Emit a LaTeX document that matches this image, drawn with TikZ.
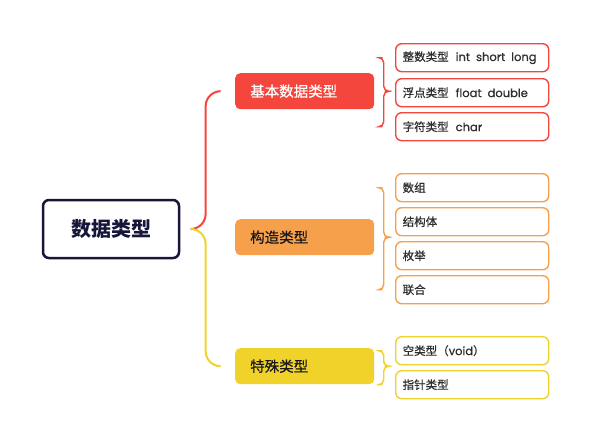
\documentclass[tikz,border=0pt]{standalone}
\usepackage{fontspec}
\setmainfont{Poppins}[FakeBold=0.6]
\newfontfamily\cjk{Noto Sans CJK SC}
\newfontfamily\cjkm{Noto Sans CJK SC}[FakeBold=0.6]
\usetikzlibrary{calc}
\definecolor{cred}{HTML}{F5463D}
\definecolor{corange}{HTML}{F7A04B}
\definecolor{cyellow}{HTML}{F1D22A}
\definecolor{cnavy}{HTML}{15163A}
\definecolor{ctext}{HTML}{2E2E2E}
\begin{document}
\begin{tikzpicture}[x=1pt,y=-1pt,
  rootbox/.style={draw=cnavy, line width=2.5pt, rounded corners=6pt,
    minimum width=136pt, minimum height=58pt, inner sep=0pt,
    text=cnavy, font=\cjk\bfseries\fontsize{20}{24}\selectfont},
  lvone/.style={rounded corners=5pt, anchor=north west, minimum height=36pt,
    text width=109pt, inner xsep=15pt, inner ysep=0pt, align=left,
    font=\cjkm\fontsize{14.5}{17}\selectfont},
  lvtwo/.style={rounded corners=6pt, anchor=north west, minimum height=28pt,
    text width=139pt, inner xsep=7pt, inner ysep=0pt, align=left, line width=1.4pt,
    fill=white, text=ctext, font=\fontsize{11.5}{14}\selectfont},
  mainbrace/.style={line width=2pt, line cap=round, rounded corners=15pt},
  subbrace/.style={line width=1.4pt, line cap=round, rounded corners=5pt}
]
\useasboundingbox (0,0) rectangle (591,440);
\fill[white] (0,0) rectangle (591,440);

\node[rootbox] (root) at (111,229) {数据类型};

\node[lvone, fill=cred, text=white] (basic) at (235,73) {基本数据类型};
\node[lvone, fill=corange, text=black!90] (struct) at (235,219) {构造类型};
\node[lvone, fill=cyellow, text=black!90] (special) at (235,348) {特殊类型};

\node[lvtwo, draw=cred] (b1) at (395,43) {\mbox{{\cjkm 整数类型}\hspace{7pt}int\hspace{6pt}short\hspace{6pt}long}};
\node[lvtwo, draw=cred] (b2) at (395,78) {\mbox{{\cjkm 浮点类型}\hspace{7pt}float\hspace{6pt}double}};
\node[lvtwo, draw=cred] (b3) at (395,112) {\mbox{{\cjkm 字符类型}\hspace{7pt}char}};

\node[lvtwo, draw=corange] (s1) at (395,173) {{\cjkm 数组}};
\node[lvtwo, draw=corange] (s2) at (395,207) {{\cjkm 结构体}};
\node[lvtwo, draw=corange] (s3) at (395,241) {{\cjkm 枚举}};
\node[lvtwo, draw=corange] (s4) at (395,275) {{\cjkm 联合}};

\node[lvtwo, draw=cyellow] (p1) at (395,336) {\mbox{{\cjkm 空类型（}void{\cjkm ）}}};
\node[lvtwo, draw=cyellow] (p2) at (395,370) {{\cjkm 指针类型}};

% main brace
\coordinate (t0) at ($(root.east)+(11,0)$);
\coordinate (e1) at ($(basic.west)+(-15,0)$);
\coordinate (e3) at ($(special.west)+(-15,0)$);
\draw[mainbrace, draw=cred] (t0) -| ($(t0)!.5!(e1)$) |- (e1);
\draw[mainbrace, draw=cyellow] (t0) -| ($(t0)!.5!(e3)$) |- (e3);

% sub braces
\coordinate (tb) at ($(basic.east)+(11,0)$);
\coordinate (eb1) at ($(b1.west)+(-13,0)$);
\coordinate (eb3) at ($(b3.west)+(-13,0)$);
\draw[subbrace, draw=cred] (tb) -| ($(tb)!.5!(eb1)$) |- (eb1);
\draw[subbrace, draw=cred] (tb) -| ($(tb)!.5!(eb3)$) |- (eb3);

\coordinate (ts) at ($(struct.east)+(11,0)$);
\coordinate (es1) at ($(s1.west)+(-13,0)$);
\coordinate (es4) at ($(s4.west)+(-13,0)$);
\draw[subbrace, draw=corange] (ts) -| ($(ts)!.5!(es1)$) |- (es1);
\draw[subbrace, draw=corange] (ts) -| ($(ts)!.5!(es4)$) |- (es4);

\coordinate (tp) at ($(special.east)+(11,0)$);
\coordinate (ep1) at ($(p1.west)+(-13,0)$);
\coordinate (ep2) at ($(p2.west)+(-13,0)$);
\draw[subbrace, draw=cyellow] (tp) -| ($(tp)!.5!(ep1)$) |- (ep1);
\draw[subbrace, draw=cyellow] (tp) -| ($(tp)!.5!(ep2)$) |- (ep2);
\end{tikzpicture}
\end{document}
